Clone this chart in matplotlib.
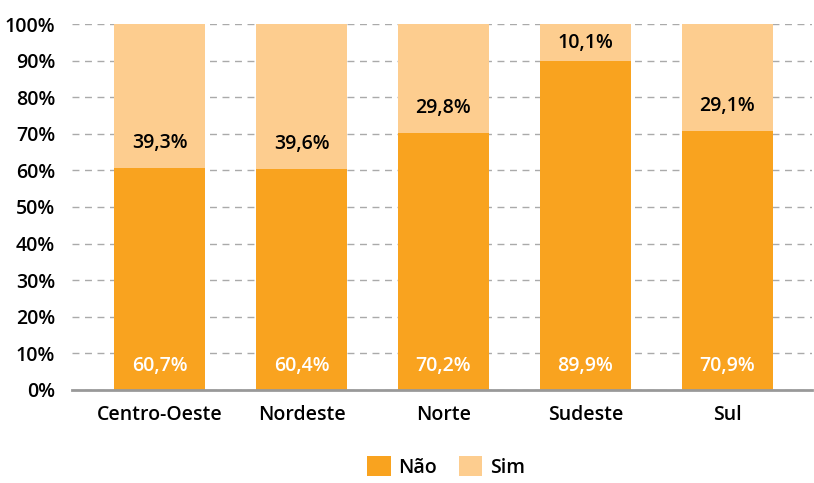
import matplotlib.pyplot as plt
import numpy as np

regioes = ["Centro-Oeste", "Nordeste", "Norte", "Sudeste", "Sul"]
nao = [60.7, 60.4, 70.2, 89.9, 70.9]
sim = [39.3, 39.6, 29.8, 10.1, 29.1]

COR_NAO = "#F9A31F"
COR_SIM = "#FDCD8F"

plt.rcParams["font.family"] = ["Open Sans", "DejaVu Sans"]

fig, ax = plt.subplots(figsize=(8.14, 4.83), dpi=100)
fig.subplots_adjust(left=0.088, right=0.998, top=0.95, bottom=0.193)

x = np.arange(len(regioes))
largura = 0.64
ax.bar(x, nao, largura, color=COR_NAO, label="Não", zorder=2)
ax.bar(x, sim, largura, bottom=nao, color=COR_SIM, label="Sim", zorder=2)


def fmt(v):
    return f"{v:.1f}%".replace(".", ",")


for xi, n, s in zip(x, nao, sim):
    ax.text(xi, 6.5, fmt(n), ha="center", va="center", color="white",
            fontsize=14, fontweight="semibold", zorder=3)
    ax.text(xi, n + min(6.8, s / 2), fmt(s), ha="center", va="center",
            color="black", fontsize=14, fontweight="semibold", zorder=3)

ax.set_ylim(0, 100)
ax.set_xlim(-0.62, 4.6)
ax.set_yticks(np.arange(0, 101, 10))
ax.set_yticklabels([f"{v}%" for v in range(0, 101, 10)])
ax.set_xticks(x)
ax.set_xticklabels(regioes)
ax.tick_params(axis="both", length=0, labelsize=14)
ax.tick_params(axis="x", pad=11)
ax.tick_params(axis="y", pad=12)
for lbl in ax.get_xticklabels() + ax.get_yticklabels():
    lbl.set_fontweight("semibold")

ax.yaxis.grid(True, linestyle=(0, (5, 4)), color="#AAAAAA", linewidth=1, zorder=0)
for lado in ["left", "right", "top"]:
    ax.spines[lado].set_visible(False)
ax.spines["bottom"].set_color("#999999")
ax.spines["bottom"].set_linewidth(2)
ax.spines["bottom"].set_zorder(4)

leg = fig.legend(loc="lower center", bbox_to_anchor=(0.548, -0.025), ncol=2, frameon=False,
                 fontsize=14, handlelength=1.2, handleheight=1.2, columnspacing=1.1,
                 handletextpad=0.4)
for t in leg.get_texts():
    t.set_fontweight("semibold")

fig.savefig("out.png", dpi=100)
